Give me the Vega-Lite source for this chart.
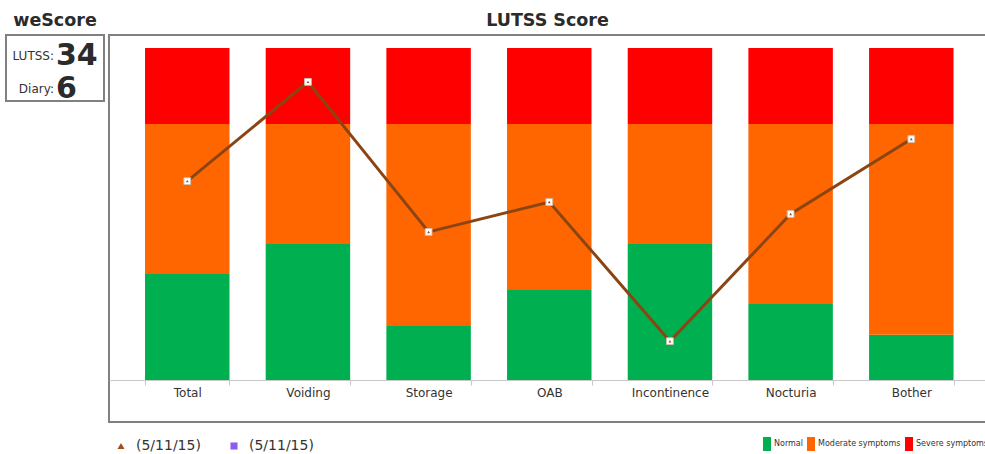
{
  "$schema": "https://vega.github.io/schema/vega-lite/v6.json",
  "padding": {"left": 5, "top": 10, "right": 0, "bottom": 0},
  "spacing": 3,
  "config": {
    "font": "DejaVu Sans",
    "view": {"stroke": null},
    "title": {"fontSize": 17.5, "fontWeight": "bold", "color": "#2b2b2b", "font": "DejaVu Sans", "offset": 6},
    "legend": {"labelFont": "DejaVu Sans", "labelColor": "#333333"}
  },
  "datasets": {
    "bars": [
      {"category": "Total", "status": "Normal", "tier": 1, "value": 31.9},
      {"category": "Total", "status": "Moderate symptoms", "tier": 2, "value": 45.2},
      {"category": "Total", "status": "Severe symptoms", "tier": 3, "value": 22.9},
      {"category": "Voiding", "status": "Normal", "tier": 1, "value": 41.0},
      {"category": "Voiding", "status": "Moderate symptoms", "tier": 2, "value": 36.1},
      {"category": "Voiding", "status": "Severe symptoms", "tier": 3, "value": 22.9},
      {"category": "Storage", "status": "Normal", "tier": 1, "value": 16.3},
      {"category": "Storage", "status": "Moderate symptoms", "tier": 2, "value": 60.8},
      {"category": "Storage", "status": "Severe symptoms", "tier": 3, "value": 22.9},
      {"category": "OAB", "status": "Normal", "tier": 1, "value": 27.1},
      {"category": "OAB", "status": "Moderate symptoms", "tier": 2, "value": 50.0},
      {"category": "OAB", "status": "Severe symptoms", "tier": 3, "value": 22.9},
      {"category": "Incontinence", "status": "Normal", "tier": 1, "value": 41.0},
      {"category": "Incontinence", "status": "Moderate symptoms", "tier": 2, "value": 36.1},
      {"category": "Incontinence", "status": "Severe symptoms", "tier": 3, "value": 22.9},
      {"category": "Nocturia", "status": "Normal", "tier": 1, "value": 22.9},
      {"category": "Nocturia", "status": "Moderate symptoms", "tier": 2, "value": 54.2},
      {"category": "Nocturia", "status": "Severe symptoms", "tier": 3, "value": 22.9},
      {"category": "Bother", "status": "Normal", "tier": 1, "value": 13.6},
      {"category": "Bother", "status": "Moderate symptoms", "tier": 2, "value": 63.5},
      {"category": "Bother", "status": "Severe symptoms", "tier": 3, "value": 22.9}
    ],
    "scores": [
      {"category": "Total", "score": 59.9, "series": "A"},
      {"category": "Voiding", "score": 89.8, "series": "A"},
      {"category": "Storage", "score": 44.6, "series": "A"},
      {"category": "OAB", "score": 53.6, "series": "A"},
      {"category": "Incontinence", "score": 11.7, "series": "A"},
      {"category": "Nocturia", "score": 50.0, "series": "A"},
      {"category": "Bother", "score": 72.6, "series": "A"}
    ],
    "wescore": [
      {"k": "LUTSS:", "v": "34"},
      {"k": "Diary:", "v": "6"}
    ]
  },
  "hconcat": [
    {
      "title": "weScore",
      "width": 98,
      "height": 66,
      "view": {"stroke": "#808080", "strokeWidth": 2},
      "data": {"name": "wescore"},
      "layer": [
        {
          "mark": {"type": "text", "align": "right", "dx": -1, "dy": 4.5, "fontSize": 12, "color": "#333333"},
          "encoding": {
            "text": {"field": "k"},
            "y": {"field": "k", "type": "nominal", "sort": null, "scale": {"type": "point", "padding": 0.5}, "axis": null},
            "x": {"datum": "c", "type": "nominal", "scale": {"type": "point"}, "axis": null}
          }
        },
        {
          "mark": {"type": "text", "align": "left", "dx": 1, "dy": 4.5, "fontSize": 30, "fontWeight": "bold", "color": "#2b2b2b"},
          "encoding": {
            "text": {"field": "v"},
            "y": {"field": "k", "type": "nominal", "sort": null},
            "x": {"datum": "c", "type": "nominal"}
          }
        }
      ]
    },
    {
      "title": "LUTSS Score",
      "width": 877,
      "height": 387,
      "view": {"stroke": "#808080", "strokeWidth": 2},
      "layer": [
        {
          "data": {"name": "bars"},
          "mark": {"type": "bar"},
          "encoding": {
            "x": {
              "field": "category", "type": "nominal", "sort": null,
              "scale": {"paddingInner": 0.3, "paddingOuter": 0.2838, "align": 0.526},
              "axis": {"title": null, "offset": -42, "labelAngle": 0, "domainColor": "#c8c8c8", "tickColor": "#c8c8c8", "tickBand": "extent", "labelFontSize": 12, "labelColor": "#333333", "labelFont": "DejaVu Sans"}
            },
            "y": {
              "field": "value", "type": "quantitative", "stack": "zero",
              "scale": {"domain": [-12.65, 103.92], "nice": false, "zero": false},
              "axis": null
            },
            "order": {"field": "tier", "type": "quantitative", "sort": "ascending"},
            "color": {
              "field": "status", "type": "nominal",
              "sort": ["Normal", "Moderate symptoms", "Severe symptoms"],
              "scale": {"domain": ["Normal", "Moderate symptoms", "Severe symptoms"], "range": ["#00B050", "#FF6600", "#FF0000"]},
              "legend": {"orient": "none", "legendX": 757, "legendY": 405, "direction": "horizontal", "title": null, "symbolType": "M-1,-1.75H1V1.75H-1Z", "symbolSize": 64, "symbolStrokeWidth": 0, "labelFontSize": 8, "labelOffset": 3, "columnPadding": 4}
            }
          }
        },
        {
          "data": {"name": "scores"},
          "mark": {"type": "line", "color": "#8B4513", "strokeWidth": 3},
          "encoding": {
            "x": {"field": "category", "type": "nominal", "sort": null},
            "y": {"field": "score", "type": "quantitative"}
          }
        },
        {
          "data": {"name": "scores"},
          "mark": {"type": "point", "shape": "square", "filled": true, "fill": "#ffffff", "stroke": "#d0c0b0", "strokeWidth": 1, "size": 45, "opacity": 1},
          "encoding": {
            "x": {"field": "category", "type": "nominal", "sort": null},
            "y": {"field": "score", "type": "quantitative"}
          }
        },
        {
          "data": {"name": "scores"},
          "mark": {"type": "point", "filled": true, "size": 8, "opacity": 1},
          "encoding": {
            "x": {"field": "category", "type": "nominal", "sort": null},
            "y": {"field": "score", "type": "quantitative"},
            "fill": {"field": "series", "type": "nominal", "scale": {"domain": ["A", "B"], "range": ["#9C4F1C", "#8A5CF0"]},
              "legend": {"orient": "none", "legendX": 108, "legendY": 404, "direction": "horizontal", "title": null, "labelExpr": "'(5/11/15)'", "labelFontSize": 14, "symbolSize": 50, "symbolStrokeWidth": 0, "labelOffset": 8, "columnPadding": 26}},
            "shape": {"field": "series", "type": "nominal", "scale": {"domain": ["A", "B"], "range": ["triangle-up", "square"]}}
          }
        }
      ]
    }
  ]
}
